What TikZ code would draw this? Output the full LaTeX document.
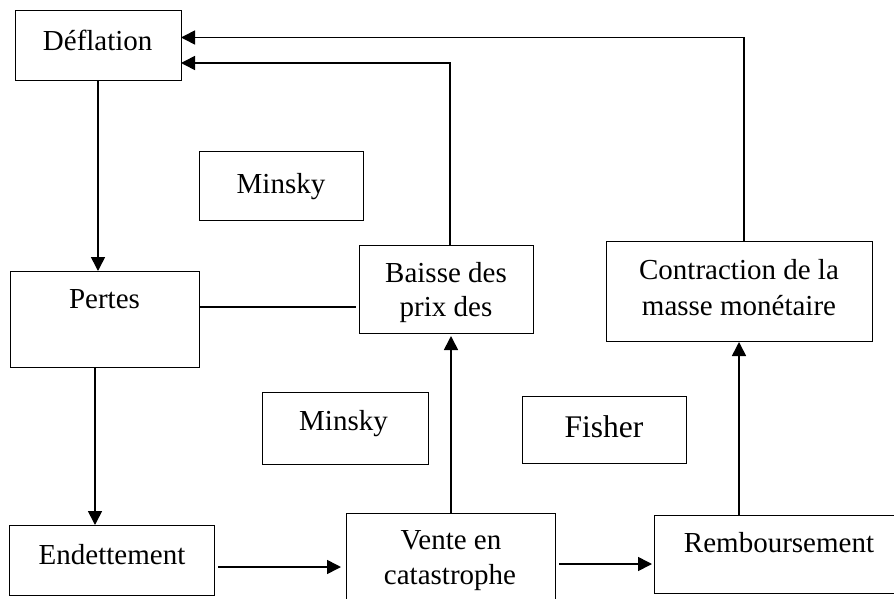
\documentclass[tikz,border=0pt]{standalone}
\usepackage{fontspec}
\setmainfont{Liberation Serif}
\usetikzlibrary{arrows.meta}
\begin{document}
\begin{tikzpicture}[x=1pt,y=-1pt,
  box/.style={draw,line width=1pt,inner sep=0pt,outer sep=0pt},
  lbl/.style={anchor=base,inner sep=0pt,font=\fontsize{29}{33}\selectfont},
  big/.style={anchor=base,inner sep=0pt,font=\fontsize{31.5}{36}\selectfont},
  arr/.style={line width=1.6pt,-{Triangle[length=14pt,width=14pt]}},
  plain/.style={line width=1.6pt}]
\useasboundingbox (0,0) rectangle (894,599);
\clip (0,0) rectangle (894,599);
% boxes
\node[box,minimum width=166pt,minimum height=70pt] (D) at (98,46) {};
\node[box,minimum width=164pt,minimum height=68pt] (M1) at (281,186) {};
\node[box,minimum width=189pt,minimum height=96pt] (P) at (104.5,319) {};
\node[box,minimum width=174pt,minimum height=88pt] (B) at (446,289) {};
\node[box,minimum width=266pt,minimum height=100pt] (C) at (739,291) {};
\node[box,minimum width=166pt,minimum height=72pt] (M2) at (345,428) {};
\node[box,minimum width=205pt,minimum height=70pt] (E) at (111.5,560) {};
\node[box,minimum width=209pt,minimum height=107pt] (V) at (450.5,566.5) {};
\node[box,minimum width=164pt,minimum height=67pt] (F) at (604,429.5) {};
\node[box,minimum width=256pt,minimum height=78pt] (R) at (782,554) {};
% labels
\node[lbl] (tD) at (97.7,51) {Déflation};
\node[lbl] (tM1) at (281,193) {Minsky};
\node[lbl] (tP) at (104.5,308) {Pertes};
\node[lbl] (tB1) at (446,282) {Baisse des};
\node[lbl] (tB2) at (446,316) {prix des};
\node[lbl] (tC1) at (739,279) {Contraction de la};
\node[lbl] (tC2) at (739,315) {masse monétaire};
\node[lbl] (tM2) at (343.5,430) {Minsky};
\node[lbl] (tE) at (112,564) {Endettement};
\node[big] (tF) at (604,437) {Fisher};
\node[lbl] (tR) at (779,552) {Remboursement};
\node[lbl] (tV1) at (451,549) {Vente en};
\node[lbl] (tV2) at (450,584) {catastrophe};
% helper coordinates
\coordinate (k1) at (744,37.5);
\coordinate (k2) at (450,63);
\coordinate (k3) at (0,307);
\coordinate (k4) at (95,0);
\coordinate (k5) at (0,567);
\coordinate (k6) at (451,0);
\coordinate (k7) at (0,564);
\coordinate (k8) at (739,0);
% connectors
\draw[arr] (C.north -| k1) |- (D.east |- k1);
\draw[arr] (B.north -| k2) |- (D.east |- k2);
\draw[plain,shorten >=3pt] (P.east |- k3) -- (B.west |- k3);
\draw[arr] (D.south) -- (D.south |- P.north);
\draw[arr] (P.south -| k4) -- (E.north -| k4);
\draw[arr,shorten <=4pt,shorten >=5pt] (E.east |- k5) -- (V.west |- k5);
\draw[arr,shorten >=3pt] (V.north -| k6) -- (B.south -| k6);
\draw[arr,shorten <=4pt,shorten >=2pt] (V.east |- k7) -- (R.west |- k7);
\draw[arr,shorten >=1pt] (R.north -| k8) -- (C.south -| k8);
\end{tikzpicture}
\end{document}
